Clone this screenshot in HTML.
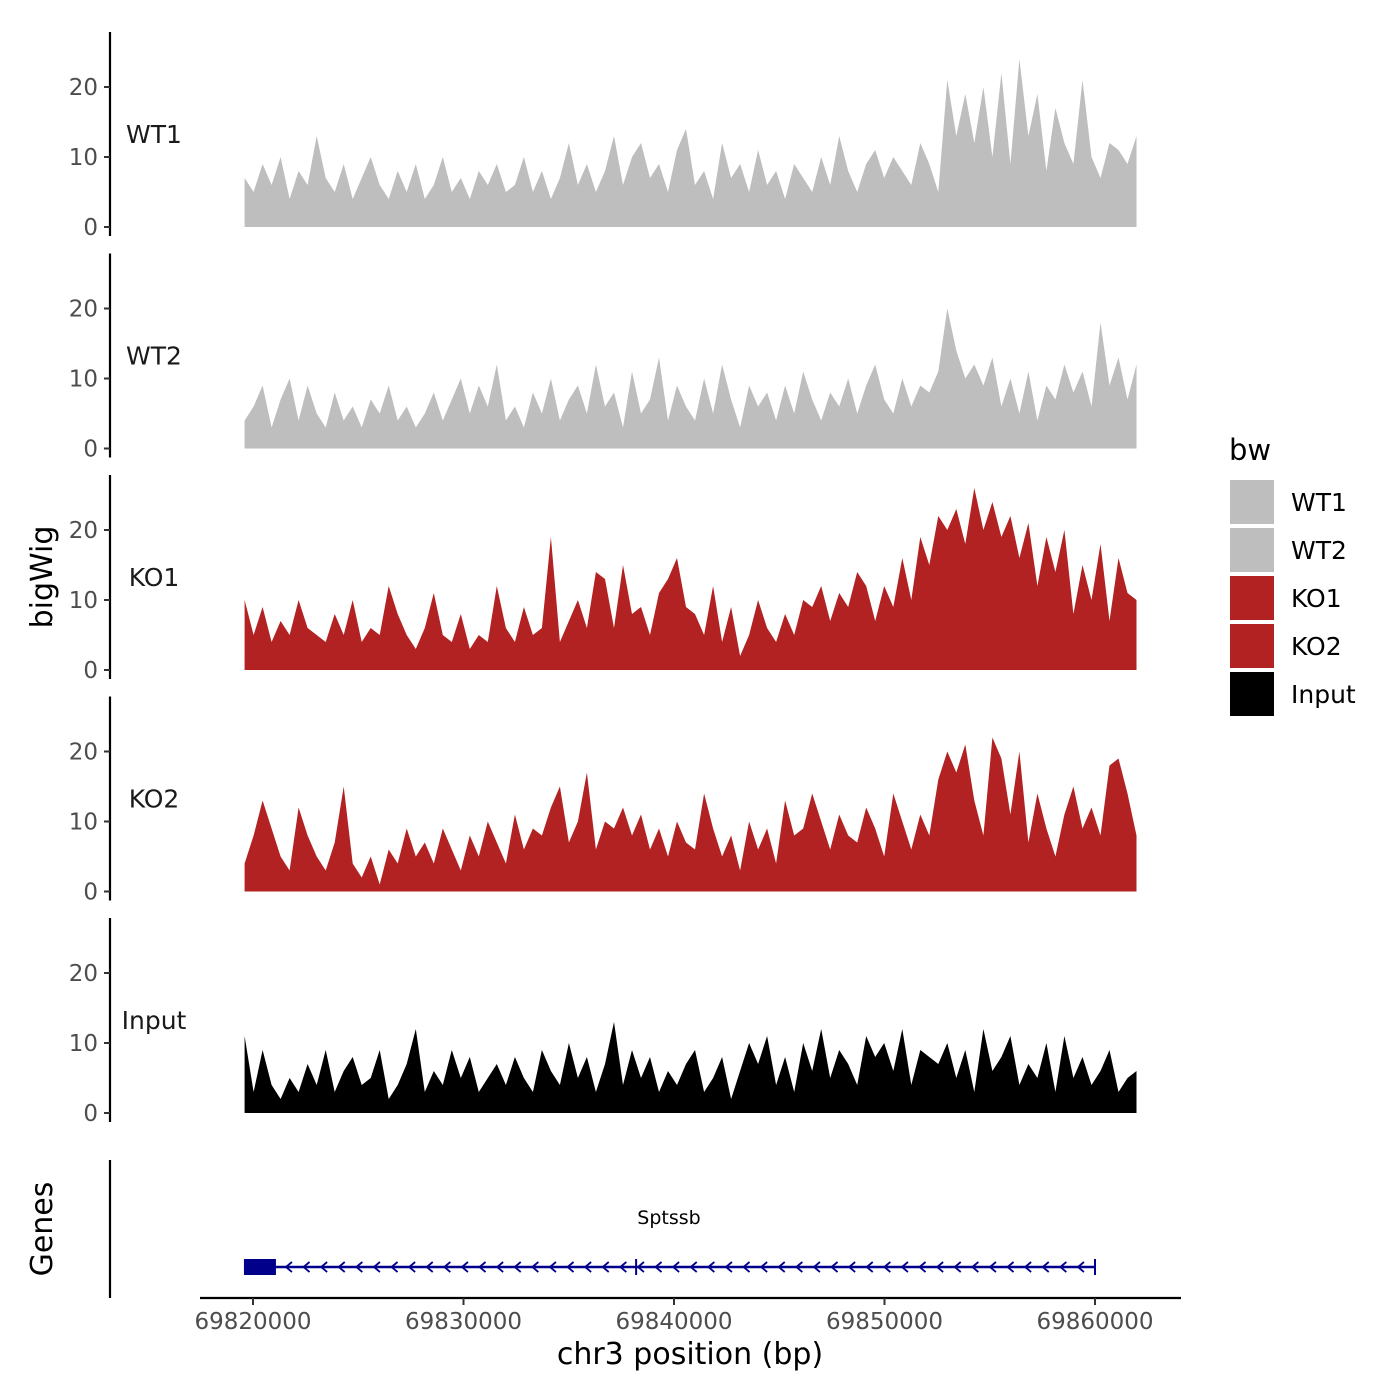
<!DOCTYPE html>
<html><head><meta charset="utf-8"><style>
body{margin:0;background:#fff}
svg{display:block;font-family:"DejaVu Sans","Liberation Sans",sans-serif}
</style></head><body>
<svg id="chart" width="1400" height="1400" viewBox="0 0 1400 1400" xmlns="http://www.w3.org/2000/svg">
<rect width="1400" height="1400" fill="#fff"/>
<text x="0" y="0" transform="translate(52,577) rotate(-90)" text-anchor="middle" font-size="30" fill="#000">bigWig</text>
<text x="0" y="0" transform="translate(52,1229) rotate(-90)" text-anchor="middle" font-size="30" fill="#000">Genes</text>
<text x="690" y="1364" text-anchor="middle" font-size="30" fill="#000">chr3 position (bp)</text>
<g id="legend">
<text x="1229" y="460" font-size="29" fill="#000">bw</text>
</g>
</svg>
<script>
const trackNames = ["WT1","WT2","KO1","KO2","Input"];
const trackColors = ["#bebebe","#bebebe","#b22222","#b22222","#000000"];
const wt1 = [7,5,9,6,10,4,8,6,13,7, 5,9,4,7,10,6,4,8,5,9, 4,6,10,5,7,4,8,6,9,5, 6,10,5,8,4,7,12,6,9,5, 8,13,6,10,12,7,9,5,11,14, 6,8,4,12,7,9,5,11,6,8, 4,9,7,5,10,6,13,8,5,9, 11,7,10,8,6,12,9,5,21,13, 19,12,20,10,22,9,24,13,19,8, 17,12,9,21,10,7,12,11,9,13];
const wt2 = [4,6,9,3,7,10,4,9,5,3, 8,4,6,3,7,5,9,4,6,3, 5,8,4,7,10,5,9,6,12,4, 6,3,8,5,10,4,7,9,5,12, 6,8,3,11,5,7,13,4,9,6, 4,10,5,12,7,3,9,6,8,4, 9,5,11,7,4,8,6,10,5,9, 12,7,5,10,6,9,8,11,20,14, 10,12,9,13,6,10,5,11,4,9, 7,12,8,11,6,18,9,13,7,12];
const ko1 = [10,5,9,4,7,5,10,6,5,4, 8,5,10,4,6,5,12,8,5,3, 6,11,5,4,8,3,5,4,12,6, 4,9,5,6,19,4,7,10,6,14, 13,6,15,8,9,5,11,13,16,9, 8,5,12,4,9,2,5,10,6,4, 8,5,10,9,12,7,11,9,14,12, 7,12,9,16,10,19,15,22,20,23, 18,26,20,24,19,22,16,21,12,19, 14,20,8,15,10,18,7,16,11,10];
const ko2 = [4,8,13,9,5,3,12,8,5,3, 7,15,4,2,5,1,6,4,9,5, 7,4,9,6,3,8,5,10,7,4, 11,6,9,8,12,15,7,10,17,6, 10,9,12,8,11,6,9,5,10,7, 6,14,9,5,8,3,10,6,9,4, 13,8,9,14,10,6,11,8,7,12, 9,5,14,10,6,11,8,16,20,17, 21,13,8,22,19,11,20,7,14,9, 5,11,15,9,12,8,18,19,14,8];
const input = [11,3,9,4,2,5,3,7,4,9, 3,6,8,4,5,9,2,4,7,12, 3,6,4,9,5,8,3,5,7,4, 8,5,3,9,6,4,10,5,8,3, 7,13,4,9,5,8,3,6,4,7, 9,3,5,8,2,6,10,7,11,4, 8,3,10,6,12,5,9,7,4,11, 8,10,6,12,4,9,8,7,10,5, 9,3,12,6,8,11,4,7,5,10, 3,11,5,8,4,6,9,3,5,6];
const series = [wt1,wt2,ko1,ko2,input];
const binStart = 69819600, binSize = 428;
const yTicks = [0,10,20];
const xTicks = [69820000,69830000,69840000,69850000,69860000];
const geneName = "Sptssb";
const geneStart = 69819570, geneEnd = 69860000, cdsEnd = 69821090, exonMark = 69838200;

const NS="http://www.w3.org/2000/svg";
const svg=document.getElementById('chart');
function el(t,a,p){const e=document.createElementNS(NS,t);for(const k in a)e.setAttribute(k,a[k]);(p||svg).appendChild(e);return e;}
const xS = bp => 253 + (bp-69820000)*842/40000;
const baseY = i => 227 + i*221.5;
const yS = (i,v) => baseY(i) - v*7;

trackNames.forEach((name,i)=>{
  const g=el('g',{});
  
  
  const vals=series[i];
  let d='M'+xS(binStart)+','+baseY(i);
  vals.forEach((v,j)=>{d+=' L'+xS(binStart+j*binSize).toFixed(1)+','+yS(i,v).toFixed(1);});
  d+=' L'+xS(binStart+(vals.length-1)*binSize).toFixed(1)+','+baseY(i)+' Z';
  const p=el('path',{d:d,fill:trackColors[i]},g);
  
  
  const ax=el('line',{x1:110,x2:110,y1:baseY(i)-195,y2:baseY(i)+9,stroke:'#000','stroke-width':2.2},g);
  
  
  yTicks.forEach(t=>{
    el('line',{x1:104,x2:110,y1:yS(i,t),y2:yS(i,t),stroke:'#333','stroke-width':2},g);
    const tx=el('text',{x:98,y:yS(i,t)+8,'text-anchor':'end','font-size':23,fill:'#4d4d4d'},g);
    tx.textContent=t;
    
    
  });
  const lb=el('text',{x:154,y:baseY(i)-84,'text-anchor':'middle','font-size':25,fill:'#1a1a1a'},g);
  lb.textContent=name;
  
  
});

const lg=document.getElementById('legend');
trackNames.forEach((name,i)=>{
  const r=el('rect',{x:1230,y:480+i*48,width:44,height:44,fill:trackColors[i]},lg);
  
  
  const t=el('text',{x:1291,y:511+i*48,'font-size':25,fill:'#000'},lg);
  t.textContent=name;
  
  
});

const gg=el('g',{});


el('line',{x1:110,x2:110,y1:1160,y2:1298,stroke:'#000','stroke-width':2.2},gg);
const gy=1267;
el('line',{x1:xS(geneStart),x2:xS(geneEnd),y1:gy,y2:gy,stroke:'#00008b','stroke-width':2.5},gg);
const box=el('rect',{x:xS(geneStart),y:gy-8,width:xS(cdsEnd)-xS(geneStart),height:16,fill:'#00008b'},gg);


[exonMark,geneEnd].forEach(b=>el('line',{x1:xS(b),x2:xS(b),y1:gy-8,y2:gy+8,stroke:'#00008b','stroke-width':2},gg));
for(let x=xS(cdsEnd)+12;x<xS(geneEnd)-4;x+=17.6){
  el('path',{d:`M${x+4},${gy-5} L${x-2},${gy} L${x+4},${gy+5}`,fill:'none',stroke:'#00008b','stroke-width':1.8},gg);
}
const gn=el('text',{x:669,y:1224,'text-anchor':'middle','font-size':19,fill:'#000'},gg);
gn.textContent=geneName;



const xa=el('g',{});


el('line',{x1:200,x2:1181,y1:1298,y2:1298,stroke:'#000','stroke-width':2.2},xa);
xTicks.forEach(t=>{
  el('line',{x1:xS(t),x2:xS(t),y1:1298,y2:1305,stroke:'#333','stroke-width':2},xa);
  const tx=el('text',{x:xS(t),y:1329,'text-anchor':'middle','font-size':23,fill:'#4d4d4d'},xa);
  tx.textContent=t;
  
  
});
</script>
</body></html>
